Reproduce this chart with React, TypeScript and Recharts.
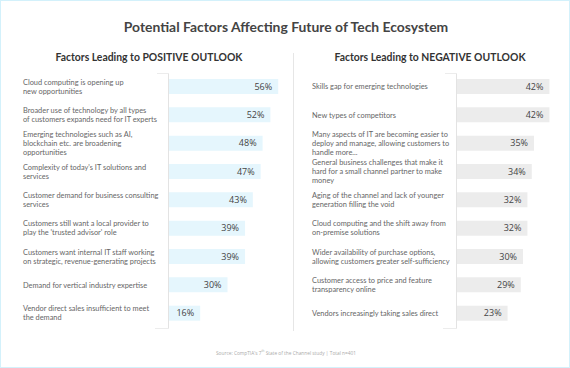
import React from "react";
import { BarChart, Bar, XAxis, YAxis, LabelList } from "recharts";

const positiveFactors = [
  "Cloud computing is opening up\nnew opportunities",
  "Broader use of technology by all types\nof customers expands need for IT experts",
  "Emerging technologies such as AI,\nblockchain etc. are broadening\nopportunities",
  "Complexity of today's IT solutions and\nservices",
  "Customer demand for business consulting\nservices",
  "Customers still want a local provider to\nplay the 'trusted advisor' role",
  "Customers want internal IT staff working\non strategic, revenue-generating projects",
  "Demand for vertical industry expertise",
  "Vendor direct sales insufficient to meet\nthe demand",
];
const positiveValues = [56, 52, 48, 47, 43, 39, 39, 30, 16];

const negativeFactors = [
  "Skills gap for emerging technologies",
  "New types of competitors",
  "Many aspects of IT are becoming easier to\ndeploy and manage, allowing customers to\nhandle more...",
  "General business challenges that make it\nhard for a small channel partner to make\nmoney",
  "Aging of the channel and lack of younger\ngeneration filling the void",
  "Cloud computing and the shift away from\non-premise solutions",
  "Wider availability of purchase options,\nallowing customers greater self-sufficiency",
  "Customer access to price and feature\ntransparency online",
  "Vendors increasingly taking sales direct",
];
const negativeValues = [42, 42, 35, 34, 32, 32, 30, 29, 23];

const FONT = "'Open Sans', sans-serif";
const LABEL_FONT = "Lato, sans-serif";

function FactorTick({ y, payload, textX }: any) {
  const lines = String(payload.value).split("\n");
  const lh = 9;
  const start = y - ((lines.length - 1) * lh) / 2;
  return (
    <text x={textX} y={start} fontSize={7.4} fill="#666" fontFamily={LABEL_FONT} dominantBaseline="central">
      {lines.map((l, i) => (
        <tspan key={i} x={textX} y={start + i * lh}>
          {l}
        </tspan>
      ))}
    </text>
  );
}

function Panel({
  names,
  values,
  left,
  axisWidth,
  textX,
  max,
  rightMargin,
  color,
}: {
  names: string[];
  values: number[];
  left: number;
  axisWidth: number;
  textX: number;
  max: number;
  rightMargin: number;
  color: string;
}) {
  const data = names.map((name, i) => ({ name, value: values[i] }));
  return (
    <div style={{ position: "absolute", left, top: 71 }}>
      <BarChart
        width={285}
        height={255}
        data={data}
        layout="vertical"
        margin={{ top: 0, right: rightMargin, bottom: 0, left: 0 }}
      >
        <XAxis type="number" domain={[0, max]} hide />
        <YAxis
          type="category"
          dataKey="name"
          width={axisWidth}
          axisLine={false}
          tickLine={false}
          interval={0}
          tick={<FactorTick textX={textX} />}
        />
        <Bar dataKey="value" fill={color} barSize={15} isAnimationActive={false}>
          <LabelList
            dataKey="value"
            position="insideRight"
            offset={6}
            formatter={(v: any) => `${v}%`}
            style={{ fill: "#444", fontSize: 9, fontFamily: FONT }}
          />
        </Bar>
      </BarChart>
    </div>
  );
}

export default function App() {
  return (
    <div
      style={{
        position: "absolute",
        left: 0,
        top: 0,
        width: 570,
        height: 368,
        boxSizing: "border-box",
        border: "1.5px solid #d3f1fb",
        background: "#fff",
        fontFamily: FONT,
        overflow: "hidden",
      }}
    >
      <div
        style={{
          position: "absolute",
          top: 17,
          left: 0,
          width: 570,
          textAlign: "center",
          fontFamily: "Lato, sans-serif",
          fontWeight: 700,
          fontSize: 13.9,
          color: "#444",
        }}
      >
        Potential Factors Affecting Future of Tech Ecosystem
      </div>
      <div
        style={{
          position: "absolute",
          top: 50,
          left: 48,
          width: 200,
          textAlign: "center",
          fontFamily: "Lato, sans-serif",
          fontWeight: 700,
          fontSize: 10.4,
          color: "#333",
        }}
      >
        Factors Leading to POSITIVE OUTLOOK
      </div>
      <div
        style={{
          position: "absolute",
          top: 50,
          left: 329,
          width: 200,
          textAlign: "center",
          fontFamily: "Lato, sans-serif",
          fontWeight: 700,
          fontSize: 10.4,
          color: "#333",
        }}
      >
        Factors Leading to NEGATIVE OUTLOOK
      </div>

      {/* card edges */}
      <div style={{ position: "absolute", left: 167, top: 73, width: 1, height: 254, background: "#e3e3e3" }} />
      <div style={{ position: "absolute", left: 156, top: 72, width: 12, height: 1, background: "#ececec" }} />
      <div style={{ position: "absolute", left: 154, top: 327, width: 14, height: 1, background: "#ececec" }} />
      <div style={{ position: "absolute", left: 292, top: 52, width: 1, height: 278, background: "#e6e6e6" }} />
      <div style={{ position: "absolute", left: 455, top: 73, width: 1, height: 254, background: "#e3e3e3" }} />
      <div style={{ position: "absolute", left: 444, top: 72, width: 12, height: 1, background: "#ececec" }} />
      <div style={{ position: "absolute", left: 442, top: 327, width: 14, height: 1, background: "#ececec" }} />

      <Panel
        names={positiveFactors}
        values={positiveValues}
        left={0}
        axisWidth={168}
        textX={22}
        max={60}
        rightMargin={0}
        color="#e5f6fd"
      />
      <Panel
        names={negativeFactors}
        values={negativeValues}
        left={285}
        axisWidth={171}
        textX={26}
        max={50}
        rightMargin={4}
        color="#ececec"
      />

      <div
        style={{
          position: "absolute",
          top: 348,
          left: 0,
          width: 570,
          textAlign: "center",
          fontSize: 4.8,
          color: "#aaa",
        }}
      >
        Source: CompTIA's 7<sup style={{ fontSize: 3 }}>th</sup> State of the Channel study | Total n=401
      </div>
    </div>
  );
}
